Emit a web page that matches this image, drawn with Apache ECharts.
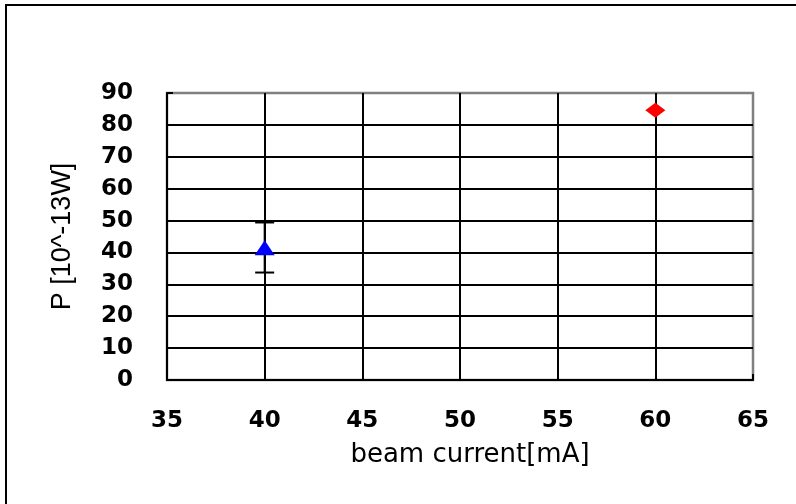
<!DOCTYPE html>
<html>
<head>
<meta charset="utf-8">
<script src="https://cdn.jsdelivr.net/npm/echarts@6/dist/echarts.min.js"></script>
<style>
    html, body { margin: 0; padding: 0; background: #fff; }
    #chart { width: 796px; height: 504px; }
</style>
</head>
<body>
<div id="chart"></div>
<script>
// x ticks
var xTicks = [35, 40, 45, 50, 55, 60, 65]
// blue triangle point with error bar
var triX = [40]
var triY = [41.5]
var errHigh = [49.4]
var errLow = [33.7]
// red diamond point
var diaX = [60]
var diaY = [84.6]

var font = 'DejaVu Sans'
var myChart = echarts.init(document.getElementById('chart'))

var errData = triX.map(function (x, i) { return [x, errHigh[i], errLow[i]] })

var option = {
    backgroundColor: '#fff',
    animation: false,
    graphic: [{
        type: 'rect',
        shape: { x: 6, y: 5, width: 900, height: 600 },
        style: { fill: 'none', stroke: '#000', lineWidth: 2 },
        silent: true
    }],
    grid: {
        left: 167,
        right: 43,
        top: 93,
        bottom: 124,
        show: true,
        borderColor: '#808080',
        borderWidth: 2.5
    },
    xAxis: {
        type: 'value',
        min: xTicks[0],
        max: xTicks[xTicks.length - 1],
        interval: 5,
        name: 'beam current[mA]',
        nameLocation: 'middle',
        nameGap: 62,
        nameTextStyle: { fontFamily: font, fontSize: 26, color: '#000', padding: [0, 0, 0, 20] },
        axisLine: { lineStyle: { color: '#000', width: 2 } },
        axisTick: { inside: true, length: 6, lineStyle: { color: '#000', width: 2 } },
        axisLabel: { fontFamily: font, fontWeight: 'bold', fontSize: 23, color: '#000', margin: 30 },
        splitLine: { show: true, showMinLine: false, showMaxLine: false, lineStyle: { color: '#000', width: 2 } }
    },
    yAxis: {
        type: 'value',
        min: 0,
        max: 90,
        interval: 10,
        name: 'P [10^-13W]',
        nameLocation: 'middle',
        nameGap: 91,
        nameTextStyle: { fontFamily: 'Liberation Sans', fontSize: 27, color: '#000' },
        axisLine: { show: true, lineStyle: { color: '#000', width: 2 } },
        axisTick: { show: true, inside: true, length: 6, lineStyle: { color: '#000', width: 2 } },
        axisLabel: { fontFamily: font, fontWeight: 'bold', fontSize: 23, color: '#000', margin: 34 },
        splitLine: { show: true, showMinLine: false, showMaxLine: false, lineStyle: { color: '#000', width: 2 } }
    },
    series: [
        {
            type: 'custom',
            data: errData,
            encode: { x: 0, y: [1, 2] },
            z: 3,
            renderItem: function (params, api) {
                var top = api.coord([api.value(0), api.value(1)])
                var bot = api.coord([api.value(0), api.value(2)])
                var st = { stroke: '#000', lineWidth: 2 }
                return {
                    type: 'group',
                    children: [
                        { type: 'line', shape: { x1: top[0], y1: top[1], x2: bot[0], y2: bot[1] }, style: st },
                        { type: 'line', shape: { x1: top[0] - 9.5, y1: top[1], x2: top[0] + 9.5, y2: top[1] }, style: st },
                        { type: 'line', shape: { x1: bot[0] - 9.5, y1: bot[1], x2: bot[0] + 9.5, y2: bot[1] }, style: st }
                    ]
                }
            }
        },
        {
            type: 'scatter',
            symbol: 'triangle',
            symbolSize: [20, 15],
            itemStyle: { color: '#0000ff', opacity: 1 },
            z: 5,
            data: triX.map(function (x, i) { return [x, triY[i]] })
        },
        {
            type: 'scatter',
            symbol: 'diamond',
            symbolSize: [20, 15],
            itemStyle: { color: '#ff0000', opacity: 1 },
            z: 5,
            data: diaX.map(function (x, i) { return [x, diaY[i]] })
        }
    ]
}
myChart.setOption(option)
</script>
</body>
</html>
